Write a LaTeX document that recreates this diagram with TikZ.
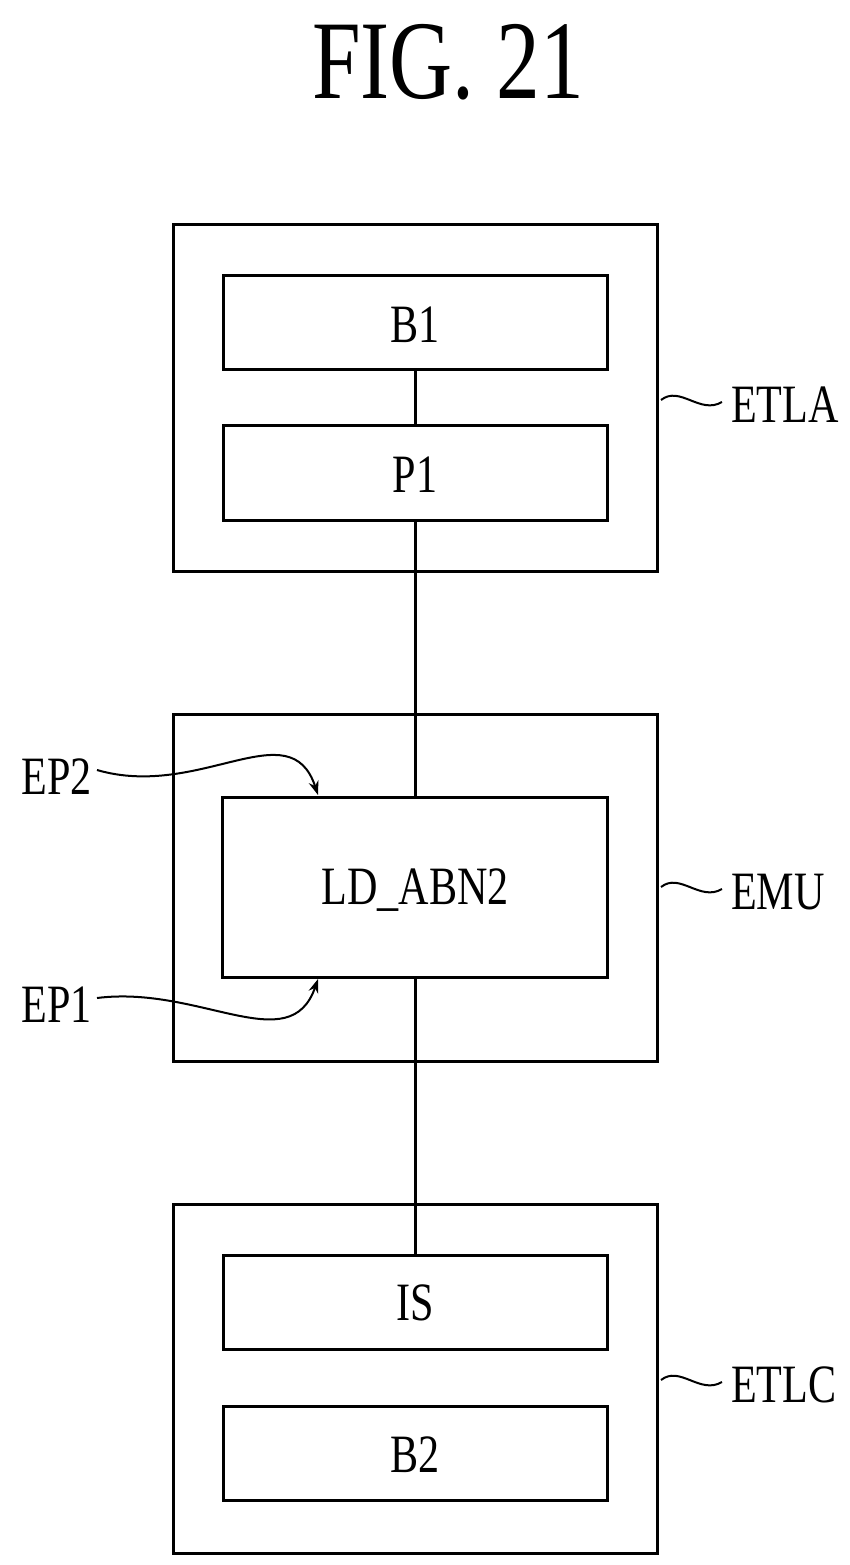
\documentclass[tikz,border=0pt]{standalone}
\usepackage{fontspec}
\setmainfont{Liberation Serif}
\usetikzlibrary{arrows.meta}
\begin{document}
\begin{tikzpicture}[x=1pt,y=-1pt,line width=3pt,
  box/.style={draw,line width=3pt},
  lbl/.style={font=\fontsize{54}{54}\selectfont,xscale=0.78,inner sep=0},
  tl/.style={line width=2pt}]
\useasboundingbox (0,0) rectangle (849,1565);
\node[font=\fontsize{112}{112}\selectfont,xscale=0.78] (title) at (448,62) {FIG. 21};
% ETLA
\draw[box] (173,224) rectangle (657,571);
\draw[box] (223,275) rectangle (607,369); \node[lbl] (b1) at (415,325) {B1};
\draw[box] (223,425) rectangle (607,520); \node[lbl] (p1) at (415,475) {P1};
\draw (415,369) -- (415,425);
% EMU
\draw[box] (173,714) rectangle (657,1061);
\draw[box] (222,797) rectangle (607,977); \node[lbl] (ld) at (415,890) {LD\_ABN2};
\draw (415,520) -- (415,797);
\draw (415,977) -- (415,1255);
% ETLC
\draw[box] (173,1204) rectangle (657,1553);
\draw[box] (223,1255) rectangle (607,1349); \node[lbl] (is) at (415,1303) {IS};
\draw[box] (223,1406) rectangle (607,1500); \node[lbl] (b2) at (415,1455) {B2};
% side labels
\node[lbl,anchor=west] (etla) at (730,405) {ETLA};
\draw[tl] (661,400) .. controls (680,385) and (700,415) .. (722,402);
\node[lbl,anchor=west] (emu) at (730,892) {EMU};
\draw[tl] (661,887) .. controls (680,872) and (700,902) .. (722,889);
\node[lbl,anchor=west] (etlc) at (730,1385) {ETLC};
\draw[tl] (661,1380) .. controls (680,1365) and (700,1395) .. (722,1382);
% EP labels
\node[lbl,anchor=east] (ep2) at (93,777) {EP2};
\draw[tl,-{Stealth[length=14pt,width=10pt]}] (97,770) .. controls (200,800) and (290,710) .. (318,795);
\node[lbl,anchor=east] (ep1) at (93,1005) {EP1};
\draw[tl,-{Stealth[length=14pt,width=10pt]}] (97,998) .. controls (200,985) and (290,1060) .. (318,979);
\end{tikzpicture}
\end{document}
